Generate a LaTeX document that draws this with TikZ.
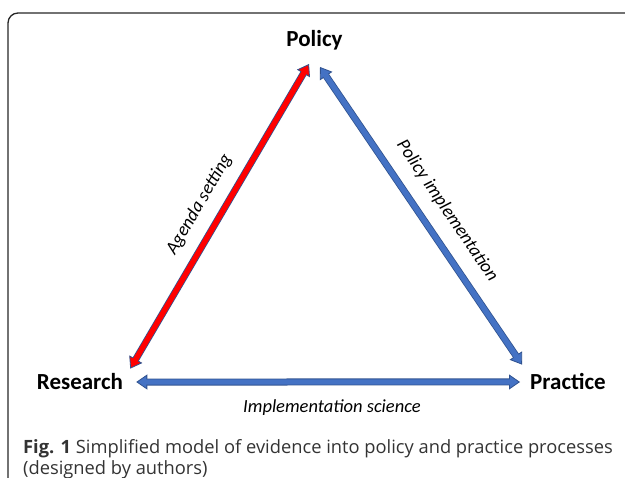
\documentclass[tikz,border=0pt]{standalone}
\usepackage{fontspec}
\setmainfont{Carlito}
\newfontfamily\captionfont{Open Sans}
\usetikzlibrary{arrows.meta}
\definecolor{arrowblue}{HTML}{4472C4}
\definecolor{rimblue}{HTML}{2F528F}
\definecolor{arrowred}{HTML}{FF0000}
\definecolor{captiongray}{HTML}{333333}

\begin{document}
\begin{tikzpicture}[x=1pt,y=1pt,
  corner/.style={font=\fontsize{23}{28}\selectfont\bfseries,
    inner sep=0pt,anchor=base},
  lbl/.style={font=\fontsize{18.5}{22}\selectfont\itshape,inner sep=0pt},
  fat/.style={line width=7pt,draw=rimblue,
    arrows={Triangle[length=11pt,width=15pt,line width=0.8pt,fill=#1]-Triangle[length=11pt,width=15pt,line width=0.8pt,fill=#1]},
    postaction={draw=#1,line width=5.4pt,arrows=-,
      shorten <=9.5pt,shorten >=9.5pt}},
  captext/.style={font=\captionfont\fontsize{18.3}{21}\selectfont,
    text=captiongray,align=left,inner sep=0pt,anchor=north west}]

  \useasboundingbox (0,0) rectangle (625,478);

  % frame, only top and left sides show
  \draw[line width=1.3pt,black!85,rounded corners=10pt] (8,0) |- (625,465);

  \node[corner] (policy) at (314.5,431) {Policy};
  \node[corner] (research) at (80,88) {Research};
  \node[corner] (practice) at (568,88) {Practice};

  \draw[fat=arrowred] ([shift={(7pt,5pt)}]research.north east)
    -- node[lbl,sloped,above=12pt] (agenda) {Agenda setting}
    ([shift={(-5.5pt,-17pt)}]policy.base);
  \draw[fat=arrowblue] ([shift={(5.5pt,-20pt)}]policy.base)
    -- node[lbl,sloped,above=13pt,pos=0.53] (polimp) {Policy implementation}
    ([shift={(-8pt,9pt)}]practice.north west);
  \draw[fat=arrowblue] ([xshift=13pt]research.east)
    -- node[lbl,below=14pt,pos=0.51] (impsci) {Implementation science}
    ([xshift=-10pt]practice.west);

  \node[captext] (caption) at (23,39)
    {\textbf{Fig. 1} Simplified model of evidence into policy and practice processes\\(designed by authors)};
\end{tikzpicture}
\end{document}
